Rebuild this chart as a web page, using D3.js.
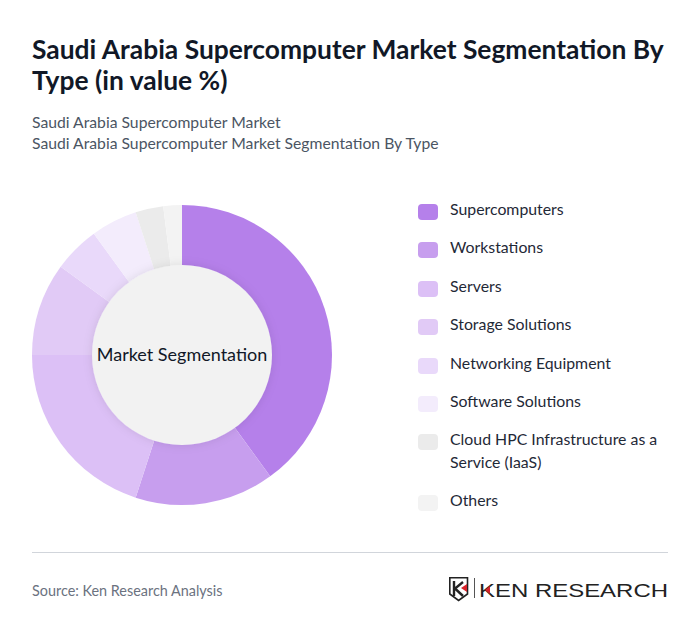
<!DOCTYPE html>
<html>
<head>
<meta charset="utf-8">
<script src="https://cdn.jsdelivr.net/npm/d3@7"></script>
<style>
html, body { margin: 0; padding: 0; background: #fff; }
svg { display: block; font-family: Lato, sans-serif; }
</style>
</head>
<body>
<svg id="chart" width="700" height="637"></svg>
<script>
// Chart values
const categories = ["Supercomputers", "Workstations", "Servers", "Storage Solutions", "Networking Equipment", "Software Solutions", "Cloud HPC Infrastructure as a Service (IaaS)", "Others"];
const shares = [40, 15, 20, 10, 5, 5, 3, 2];
const colors = ["#b580ea", "#c79eee", "#dcc0f6", "#e1caf6", "#e9d9fa", "#f3ecfc", "#ebebeb", "#f3f3f3"];
const titleLines = ["Saudi Arabia Supercomputer Market Segmentation By", "Type (in value %)"];
const subtitleLines = ["Saudi Arabia Supercomputer Market", "Saudi Arabia Supercomputer Market Segmentation By Type"];

const svg = d3.select("#chart");

// Title and subtitle
svg.selectAll(".title").data(titleLines).enter().append("text")
    .attr("class", "title")
    .attr("x", 32)
    .attr("y", (d, i) => 59 + i * 31)
    .attr("font-size", 26.4)
    .attr("font-weight", 700)
    .attr("fill", "#111827")
    .text(d => d);

svg.selectAll(".subtitle").data(subtitleLines).enter().append("text")
    .attr("class", "subtitle")
    .attr("x", 32)
    .attr("y", (d, i) => 128 + i * 21)
    .attr("font-size", 15.73)
    .attr("fill", "#4b5563")
    .text(d => d);

// Donut
const defs = svg.append("defs");
const shadow = defs.append("filter").attr("id", "holeShadow")
    .attr("x", "-20%").attr("y", "-20%").attr("width", "140%").attr("height", "140%");
shadow.append("feDropShadow")
    .attr("dx", 0).attr("dy", 0).attr("stdDeviation", 5)
    .attr("flood-color", "#000").attr("flood-opacity", 0.1);

const pie = d3.pie().sort(null).value(d => d);
const arc = d3.arc().innerRadius(0).outerRadius(150);
const donut = svg.append("g").attr("transform", "translate(182,355)");

donut.selectAll("path").data(pie(shares)).enter().append("path")
    .attr("d", arc)
    .attr("fill", (d, i) => colors[i]);

donut.append("circle")
    .attr("r", 90)
    .attr("fill", "#f2f2f2")
    .attr("filter", "url(#holeShadow)");

donut.append("text")
    .attr("text-anchor", "middle")
    .attr("y", 6)
    .attr("font-size", 18)
    .attr("fill", "#111827")
    .text("Market Segmentation");

// Legend
const rowScale = d3.scaleLinear().domain([0, 5]).range([212, 404]);
const legendTop = (d, i) => i < 6 ? Math.round(rowScale(i)) : (i == 6 ? 442 : 503);
const legend = svg.append("g");
const rows = legend.selectAll("g").data(categories).enter().append("g")
    .attr("transform", (d, i) => "translate(418," + legendTop(d, i) + ")");

rows.append("rect")
    .attr("y", -8).attr("width", 20).attr("height", 16).attr("rx", 4)
    .attr("fill", (d, i) => colors[i]);

rows.each(function (d, i) {
    const row = d3.select(this);
    // the long label wraps onto two lines
    const lines = i == 6 ? ["Cloud HPC Infrastructure as a", "Service (IaaS)"] : [d];
    lines.forEach(function (line, n) {
        row.append("text")
            .attr("x", 32)
            .attr("y", 3 + n * 23)
            .attr("font-size", 15.85)
            .attr("fill", "#1f2937")
            .text(line);
    });
});

// Footer
svg.append("line")
    .attr("x1", 32).attr("x2", 668).attr("y1", 552.5).attr("y2", 552.5)
    .attr("stroke", "#d1d5db");

svg.append("text")
    .attr("x", 32).attr("y", 596)
    .attr("font-size", 14.4)
    .attr("fill", "#6b7280")
    .text("Source: Ken Research Analysis");

// Logo
const logo = svg.append("g").attr("transform", "translate(449,577)");
logo.append("path")
    .attr("d", "M0.8 0.8H18.5V17L9.6 23.5L0.8 17Z")
    .attr("fill", "none").attr("stroke", "#222").attr("stroke-width", 1.6);
logo.append("path")
    .attr("d", "M5 4V19M14 5L6 11.5L14 19")
    .attr("fill", "none").attr("stroke", "#222").attr("stroke-width", 2.4);
logo.append("path").attr("d", "M18 7V15L12 11Z").attr("fill", "#d8232a");
logo.append("line")
    .attr("x1", 25.5).attr("x2", 25.5).attr("y1", 1).attr("y2", 21)
    .attr("stroke", "#555");
logo.append("text")
    .attr("x", 30).attr("y", 20)
    .attr("font-family", "Liberation Sans, sans-serif")
    .attr("font-size", 18.5)
    .attr("fill", "#222")
    .attr("textLength", 189)
    .attr("lengthAdjust", "spacingAndGlyphs")
    .text("KEN RESEARCH");
logo.append("path").attr("d", "M41 9L36 13L41 17Z").attr("fill", "#d8232a");
</script>
</body>
</html>
